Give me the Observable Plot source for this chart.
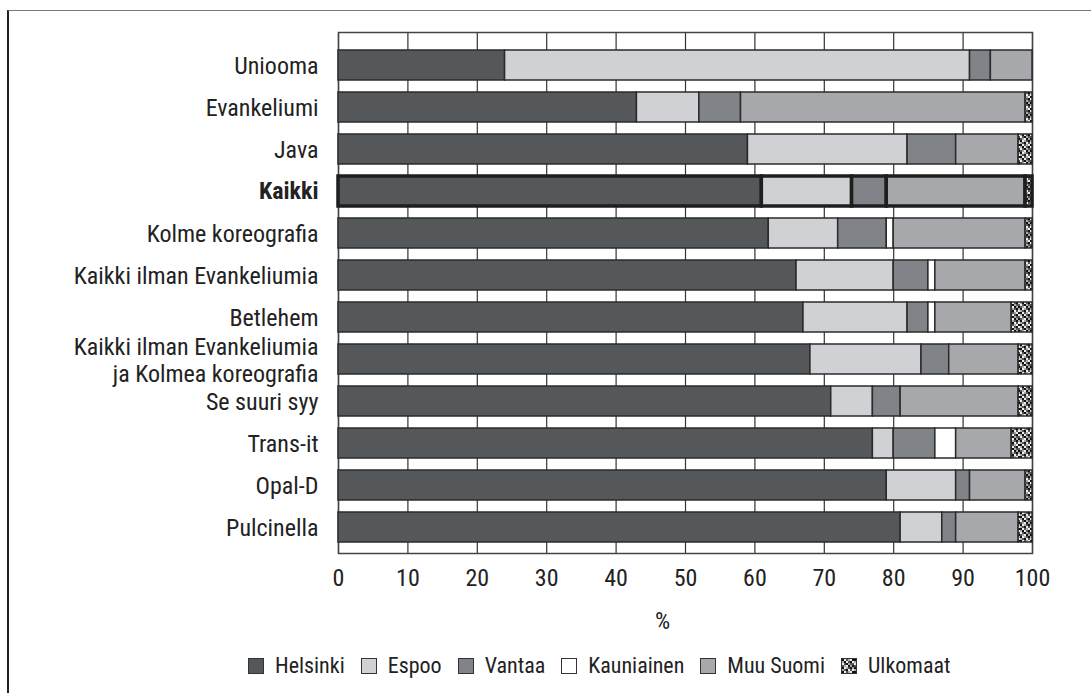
<!DOCTYPE html>
<html>
<head>
<meta charset="utf-8">
<script src="https://cdn.jsdelivr.net/npm/d3@7"></script>
<script src="https://cdn.jsdelivr.net/npm/@observablehq/plot@0.6"></script>
<style>
  html, body { margin: 0; padding: 0; background: #fff; }
  body { width: 1091px; height: 693px; position: relative; overflow: hidden;
         font-family: 'Roboto Condensed', 'Liberation Sans Narrow', 'Arial Narrow', 'Roboto', sans-serif; color: #222; }
  #border { position: absolute; left: 7px; top: 10px; right: -5px; bottom: -5px;
            border-top: 1.5px solid #777; border-left: 2px solid #222; pointer-events: none; }
  #chart { position: absolute; left: 0; top: 0; }
  #legend { position: absolute; left: 248px; top: 653px; display: flex; align-items: center;
            font-size: 22px; white-space: nowrap; }
  .item { display: flex; align-items: center; margin-right: 16px; }
  .sw { width: 14px; height: 14px; border: 1.5px solid #333; margin-right: 11px; }
</style>
</head>
<body>
<div id="border"></div>
<div id="chart"></div>
<div id="legend"></div>
<script>
const rows = ["Uniooma", "Evankeliumi", "Java", "Kaikki", "Kolme koreografia",
  "Kaikki ilman Evankeliumia", "Betlehem", "Kaikki ilman Evankeliumia\nja Kolmea koreografia",
  "Se suuri syy", "Trans-it", "Opal-D", "Pulcinella"];
const categories = ["Helsinki", "Espoo", "Vantaa", "Kauniainen", "Muu Suomi", "Ulkomaat"];
const helsinki   = [24, 43, 59, 61, 62, 66, 67, 68, 71, 77, 79, 81];
const espoo      = [67,  9, 23, 13, 10, 14, 15, 16,  6,  3, 10,  6];
const vantaa     = [ 3,  6,  7,  5,  7,  5,  3,  4,  4,  6,  2,  2];
const kauniainen = [ 0,  0,  0,  0,  1,  1,  1,  0,  0,  3,  0,  0];
const muuSuomi   = [ 6, 41,  9, 20, 19, 13, 11, 10, 17,  8,  8,  9];
const ulkomaat   = [ 0,  1,  2,  1,  1,  1,  3,  2,  2,  3,  1,  2];
const xTicks = [0, 10, 20, 30, 40, 50, 60, 70, 80, 90, 100];
const highlight = "Kaikki";

const series = [helsinki, espoo, vantaa, kauniainen, muuSuomi, ulkomaat];
const colors = ["#55585b", "#d0d1d5", "#808387", "#ffffff", "#a6a8ac", "url(#ulkTex)"];

const data = rows.flatMap((r, i) => categories.map((c, j) => ({row: r, cat: c, value: series[j][i]})))
  .filter(d => d.value > 0);
const dataHi = data.filter(d => d.row === highlight);
const dataRest = data.filter(d => d.row !== highlight);

const font = "'Roboto Condensed', 'Liberation Sans Narrow', 'Arial Narrow', 'Roboto', sans-serif";

const plot = Plot.plot({
  width: 1091,
  height: 640,
  marginLeft: 338,
  marginRight: 59,
  marginTop: 32,
  marginBottom: 87,
  style: {fontFamily: font, color: "#222", background: "transparent"},
  x: {domain: [0, 100], axis: null},
  y: {domain: rows, axis: null, paddingInner: 0.29, paddingOuter: 0, insetTop: 15, insetBottom: 9},
  color: {type: "ordinal", domain: categories, range: colors},
  marks: [
    Plot.ruleX(xTicks, {stroke: "#333", strokeWidth: 1.2}),
    Plot.frame({stroke: "#444", strokeWidth: 1.5}),
    Plot.barX(dataRest, Plot.stackX({x: "value", y: "row", fill: "cat", order: null,
      stroke: "#2b2b2b", strokeWidth: 1.5})),
    Plot.barX(dataHi, Plot.stackX({x: "value", y: "row", fill: "cat", order: null,
      stroke: "#1e1e1e", strokeWidth: 3.5})),
    Plot.axisX({ticks: xTicks, tickSize: 0, tickPadding: 15, fontSize: 24, label: null,
      tickFormat: d => String(d)}),
    Plot.text(rows.filter(r => r !== highlight), {x: 0, y: d => d, text: d => d, textAnchor: "end",
      dx: -20, fontSize: 24, lineHeight: 1.12, fill: "#222"}),
    Plot.text(rows.filter(r => r === highlight), {x: 0, y: d => d, text: d => d, textAnchor: "end",
      dx: -20, fontSize: 24, fontWeight: "bold", fill: "#222"}),
    Plot.text(["%"], {frameAnchor: "bottom", dy: 75, dx: -23, text: d => d, fontSize: 24, fill: "#222"})
  ]
});

// texture pattern for "Ulkomaat"
const tex = [
  [0, 3, 1, 2, 3, 0],
  [2, 0, 3, 1, 0, 3],
  [3, 1, 0, 2, 1, 1],
  [1, 2, 3, 0, 2, 0],
  [0, 3, 2, 1, 0, 2],
  [2, 1, 0, 3, 1, 3]
];
const texShades = ["#111", "#555", "#aaa", "#eee"];
const ns = "http://www.w3.org/2000/svg";
const defs = document.createElementNS(ns, "defs");
const pat = document.createElementNS(ns, "pattern");
pat.setAttribute("id", "ulkTex");
pat.setAttribute("patternUnits", "userSpaceOnUse");
pat.setAttribute("width", "12");
pat.setAttribute("height", "12");
tex.forEach((row, yi) => row.forEach((v, xi) => {
  const r = document.createElementNS(ns, "rect");
  r.setAttribute("x", xi * 2); r.setAttribute("y", yi * 2);
  r.setAttribute("width", 2); r.setAttribute("height", 2);
  r.setAttribute("fill", texShades[v]);
  pat.appendChild(r);
}));
defs.appendChild(pat);
plot.insertBefore(defs, plot.firstChild);
document.getElementById("chart").appendChild(plot);

// legend
const legend = document.getElementById("legend");
categories.forEach((c, j) => {
  const item = document.createElement("div");
  item.className = "item";
  const sw = document.createElement("div");
  sw.className = "sw";
  if (j === 5) {
    const s = document.createElementNS(ns, "svg");
    s.setAttribute("width", 14); s.setAttribute("height", 14);
    s.style.display = "block";
    const r = document.createElementNS(ns, "rect");
    r.setAttribute("width", 14); r.setAttribute("height", 14);
    r.setAttribute("fill", "url(#ulkTex)");
    s.appendChild(r);
    sw.appendChild(s);
  } else {
    sw.style.background = colors[j];
  }
  const t = document.createElement("span");
  t.textContent = c;
  item.appendChild(sw);
  item.appendChild(t);
  legend.appendChild(item);
});
</script>
</body>
</html>
